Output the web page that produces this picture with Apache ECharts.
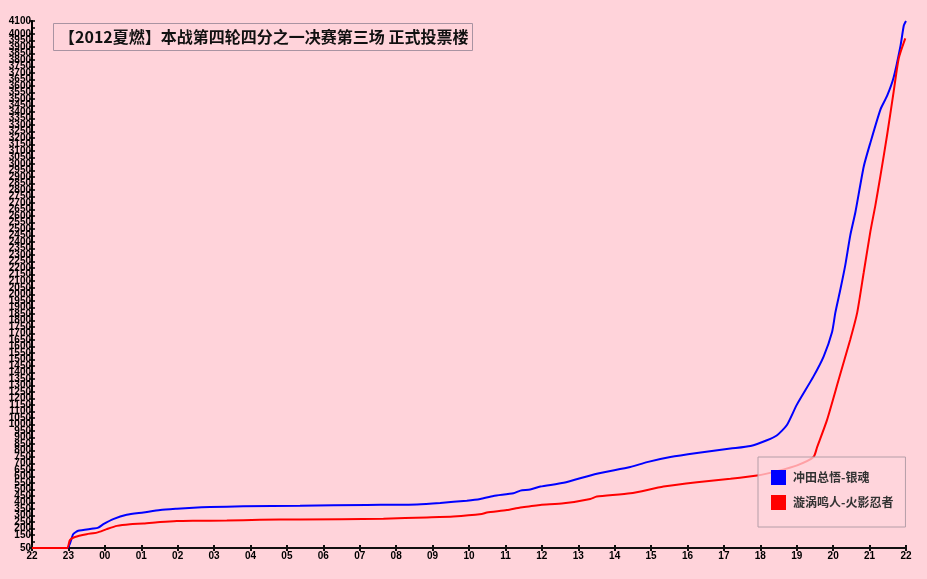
<!DOCTYPE html>
<html>
<head>
<meta charset="utf-8">
<script src="https://cdn.jsdelivr.net/npm/echarts@6/dist/echarts.min.js"></script>
<style>
html,body{margin:0;padding:0;background:#ffd3da;}
#c{width:927px;height:579px;}
</style>
</head>
<body>
<div id="c"></div>
<script>
// Tick labels (hours, starting 22:00 of day one)
const xLabels = ['22','23','00','01','02','03','04','05','06','07','08','09','10','11','12','13','14','15','16','17','18','19','20','21','22'];
const seriesNames = ['冲田总悟-银魂', '漩涡鸣人-火影忍者'];
const titleText = '【2012夏燃】本战第四轮四分之一决赛第三场 正式投票楼';

// Blue series: hours since 22:00 and cumulative votes
const blueHours = [0, 0.97, 1.13, 1.27, 1.68, 1.82, 1.96, 2.23, 2.60, 3.06, 3.52, 3.98, 4.43, 4.89, 5.80, 7.36, 9.20, 10.57, 11.21, 11.94, 12.31, 12.67, 13.22, 13.41, 13.68, 13.96, 14.60, 15.51, 16.43, 16.89, 17.53, 18.26, 19.18, 19.73, 20.18, 20.46, 20.73, 21.00, 21.46, 21.74, 21.97, 22.06, 22.20, 22.33, 22.47, 22.61, 22.84, 23.02, 23.30, 23.48, 23.66, 23.85, 23.94, 24.00];
const blueVotes = [50, 50, 156, 182, 199, 207, 233, 272, 305, 323, 342, 352, 360, 365, 370, 375, 381, 385, 396, 414, 427, 450, 470, 491, 499, 522, 551, 621, 672, 710, 749, 780, 814, 834, 878, 917, 995, 1150, 1369, 1523, 1710, 1859, 2040, 2220, 2453, 2630, 2982, 3163, 3421, 3524, 3666, 3911, 4066, 4100];

// Red series
const redHours = [0, 0.96, 1.04, 1.18, 1.50, 1.78, 2.05, 2.33, 2.69, 3.06, 3.52, 3.98, 4.43, 5.35, 6.26, 7.36, 9.65, 10.84, 11.57, 12.35, 12.49, 13.04, 13.41, 13.68, 13.96, 14.60, 15.33, 15.51, 16.43, 17.34, 18.26, 19.18, 19.91, 20.46, 21.01, 21.46, 21.56, 21.83, 22.15, 22.47, 22.66, 22.84, 23.02, 23.16, 23.30, 23.48, 23.66, 23.80, 23.98];
const redVotes = [50, 50, 110, 135, 156, 168, 195, 220, 233, 238, 249, 257, 259, 261, 267, 269, 275, 285, 292, 311, 323, 342, 362, 370, 381, 393, 427, 445, 470, 522, 556, 582, 607, 641, 685, 749, 826, 1033, 1343, 1653, 1859, 2169, 2479, 2685, 2914, 3222, 3555, 3812, 3966];

const pair = (hs, vs) => hs.map((h, i) => [h, vs[i]]);

const chart = echarts.init(document.getElementById('c'), null, {renderer: 'canvas'});
const axisFont = {fontFamily: 'Liberation Sans, Arial, sans-serif', fontSize: 10, fontWeight: 'bold', color: '#000'};
const baseX = {
  type: 'value', min: 0, max: 24, interval: 1, position: 'bottom',
  splitLine: {show: false}
};
const baseY = {
  type: 'value', min: 50, max: 4100, interval: 50, position: 'left',
  splitLine: {show: false}
};
chart.setOption({
  backgroundColor: '#ffd3da',
  animation: false,
  title: {
    text: titleText,
    left: 53, top: 23,
    padding: [5, 4, 5, 6],
    borderColor: '#a993a2', borderWidth: 1,
    textStyle: {fontFamily: 'Noto Sans CJK SC', fontSize: 16, fontWeight: 'bold', color: '#111', lineHeight: 18}
  },
  legend: {
    orient: 'vertical',
    left: 758, top: 457,
    itemWidth: 15, itemHeight: 15, itemGap: 10,
    padding: [13, 12, 17, 13],
    backgroundColor: 'rgba(255,214,220,0.75)',
    borderColor: '#b59ea8', borderWidth: 1,
    icon: 'rect',
    textStyle: {fontFamily: 'Noto Sans CJK SC', fontSize: 12, fontWeight: 'bold', color: '#333', padding: [0,0,0,2]},
    data: seriesNames
  },
  grid: {left: 32, right: 21, top: 21, bottom: 31, containLabel: false},
  xAxis: [
    Object.assign({}, baseX, {
      axisLine: {show: true, lineStyle: {color: '#111', width: 2}},
      axisTick: {show: true, inside: false, length: 3, lineStyle: {color: '#111', width: 2}},
      axisLabel: Object.assign({margin: 3, showMinLabel: true, showMaxLabel: true, formatter: v => xLabels[v]}, axisFont)
    }),
    Object.assign({}, baseX, {
      axisLine: {show: false},
      axisTick: {show: true, inside: true, length: 3, lineStyle: {color: '#111', width: 2}},
      axisLabel: {show: false}
    })
  ],
  yAxis: [
    Object.assign({}, baseY, {
      axisLine: {show: true, lineStyle: {color: '#000', width: 2}},
      axisTick: {show: true, inside: false, length: 3, lineStyle: {color: '#000', width: 1.5}},
      axisLabel: Object.assign({margin: 1, showMinLabel: true, showMaxLabel: true, hideOverlap: false, formatter: v => String(v)}, axisFont)
    }),
    Object.assign({}, baseY, {
      axisLine: {show: false},
      axisTick: {show: true, inside: true, length: 3, lineStyle: {color: '#000', width: 1.5}},
      axisLabel: {show: false}
    })
  ],
  series: [
    {
      name: seriesNames[0], type: 'line', data: pair(blueHours, blueVotes),
      showSymbol: false, smooth: 0.2, clip: false,
      lineStyle: {color: '#0000ff', width: 2}, itemStyle: {color: '#0000ff'}
    },
    {
      name: seriesNames[1], type: 'line', data: pair(redHours, redVotes),
      showSymbol: false, smooth: 0.2, clip: false,
      lineStyle: {color: '#ff0000', width: 2}, itemStyle: {color: '#ff0000'}
    }
  ]
});
</script>
</body>
</html>
